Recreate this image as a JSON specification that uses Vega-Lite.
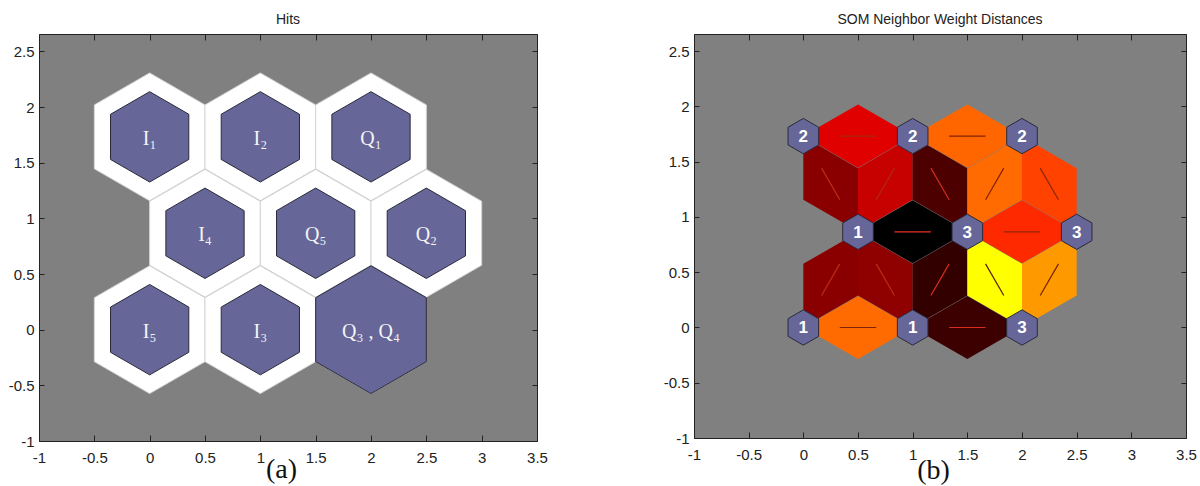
{
  "$schema": "https://vega.github.io/schema/vega-lite/v6.json",
  "background": "white",
  "padding": {"left": 7, "top": 12, "right": 0, "bottom": 0},
  "spacing": 114,
  "config": {
    "view": {"fill": "#808080", "stroke": "#222222", "strokeWidth": 1},
    "axis": {
      "domain": false, "grid": false, "tickColor": "#222222", "tickSize": -6, "tickWidth": 1,
      "labelFont": "Liberation Sans", "labelFontSize": 15, "labelColor": "#222222",
      "labelFlush": false, "labelOverlap": false, "labelBound": false,
      "titleFont": "Liberation Serif", "titleFontSize": 28, "titleFontWeight": "normal", "titleColor": "#111111"
    },
    "title": {"font": "Liberation Sans", "fontSize": 14, "fontWeight": "normal", "color": "#222222", "anchor": "middle", "offset": 7}
  },
  "datasets": {
    "hits": [
      {"x": 0, "y": 1.7321, "label": "I₁", "hits": 1},
      {"x": 1, "y": 1.7321, "label": "I₂", "hits": 1},
      {"x": 2, "y": 1.7321, "label": "Q₁", "hits": 1},
      {"x": 0.5, "y": 0.866, "label": "I₄", "hits": 1},
      {"x": 1.5, "y": 0.866, "label": "Q₅", "hits": 1},
      {"x": 2.5, "y": 0.866, "label": "Q₂", "hits": 1},
      {"x": 0, "y": 0, "label": "I₅", "hits": 1},
      {"x": 1, "y": 0, "label": "I₃", "hits": 1},
      {"x": 2, "y": 0, "label": "Q₃ , Q₄", "hits": 2}
    ],
    "links": [
      {"x": 0.5, "y": 1.7321, "dir": "h", "dist": 0.56},
      {"x": 1.5, "y": 1.7321, "dir": "h", "dist": 0.3},
      {"x": 1, "y": 0.866, "dir": "h", "dist": 1.0},
      {"x": 2, "y": 0.866, "dir": "h", "dist": 0.42},
      {"x": 0.5, "y": 0, "dir": "h", "dist": 0.29},
      {"x": 1.5, "y": 0, "dir": "h", "dist": 0.88},
      {"x": 0.25, "y": 1.299, "dir": "f", "dist": 0.73},
      {"x": 0.75, "y": 1.299, "dir": "r", "dist": 0.61},
      {"x": 1.25, "y": 1.299, "dir": "f", "dist": 0.85},
      {"x": 1.75, "y": 1.299, "dir": "r", "dist": 0.29},
      {"x": 2.25, "y": 1.299, "dir": "f", "dist": 0.37},
      {"x": 0.25, "y": 0.433, "dir": "r", "dist": 0.73},
      {"x": 0.75, "y": 0.433, "dir": "f", "dist": 0.72},
      {"x": 1.25, "y": 0.433, "dir": "r", "dist": 0.9},
      {"x": 1.75, "y": 0.433, "dir": "f", "dist": 0.0},
      {"x": 2.25, "y": 0.433, "dir": "r", "dist": 0.2}
    ],
    "neurons": [
      {"x": 0, "y": 1.7321, "n": "2"},
      {"x": 1, "y": 1.7321, "n": "2"},
      {"x": 2, "y": 1.7321, "n": "2"},
      {"x": 0.5, "y": 0.866, "n": "1"},
      {"x": 1.5, "y": 0.866, "n": "3"},
      {"x": 2.5, "y": 0.866, "n": "3"},
      {"x": 0, "y": 0, "n": "1"},
      {"x": 1, "y": 0, "n": "1"},
      {"x": 2, "y": 0, "n": "3"}
    ]
  },
  "hconcat": [
    {
      "width": 498, "height": 407,
      "title": "Hits",
      "data": {"name": "hits"},
      "resolve": {"axis": {"x": "independent", "y": "independent"}},
      "layer": [
        {
          "mark": {"type": "point", "shape": "M0,-1.1547L1,-0.5774L1,0.5774L0,1.1547L-1,0.5774L-1,-0.5774Z", "filled": true, "fill": "#ffffff", "stroke": "#d4d4d4", "strokeWidth": 1, "size": 12254, "opacity": 1},
          "encoding": {
            "x": {"field": "x", "type": "quantitative", "scale": {"domain": [-1, 3.5], "nice": false, "zero": false},
                  "axis": {"orient": "bottom", "values": [-1, -0.5, 0, 0.5, 1, 1.5, 2, 2.5, 3, 3.5], "labelExpr": "datum.value + ''", "labelPadding": 15, "title": "(a)", "titleX": 242, "titleY": 28, "titleBaseline": "middle"}},
            "y": {"field": "y", "type": "quantitative", "scale": {"domain": [-1, 2.656], "nice": false, "zero": false},
                  "axis": {"orient": "left", "values": [-1, -0.5, 0, 0.5, 1, 1.5, 2, 2.5], "labelExpr": "datum.value + ''", "tickSize": -5, "labelPadding": 10, "title": null}}
          }
        },
        {
          "mark": {"type": "point", "shape": "M0,-1.1547L1,-0.5774L1,0.5774L0,1.1547L-1,0.5774L-1,-0.5774Z", "filled": true, "fill": "#666699", "stroke": "#2a2a3a", "strokeWidth": 1, "opacity": 1},
          "encoding": {
            "x": {"field": "x", "type": "quantitative", "axis": {"orient": "top", "values": [-1, -0.5, 0, 0.5, 1, 1.5, 2, 2.5, 3, 3.5], "labels": false, "title": null}},
            "y": {"field": "y", "type": "quantitative", "axis": {"orient": "right", "values": [-1, -0.5, 0, 0.5, 1, 1.5, 2, 2.5], "labels": false, "tickSize": -5, "title": null}},
            "size": {"field": "hits", "type": "quantitative", "scale": {"domain": [0, 2], "range": [0, 12254], "zero": true}, "legend": null}
          }
        },
        {
          "mark": {"type": "text", "font": "Liberation Serif", "fontSize": 20, "color": "#f4f4f4", "baseline": "middle", "align": "center", "dy": 2},
          "encoding": {
            "x": {"field": "x", "type": "quantitative", "axis": null},
            "y": {"field": "y", "type": "quantitative", "axis": null},
            "text": {"field": "label", "type": "nominal"}
          }
        }
      ]
    },
    {
      "width": 492, "height": 404,
      "title": "SOM Neighbor Weight Distances",
      "resolve": {"axis": {"x": "independent", "y": "independent"}, "scale": {"shape": "independent"}},
      "layer": [
        {
          "data": {"name": "links"},
          "mark": {"type": "point", "filled": true, "size": 11968, "opacity": 1, "strokeWidth": 0},
          "encoding": {
            "x": {"field": "x", "type": "quantitative", "scale": {"domain": [-1, 3.5], "nice": false, "zero": false},
                  "axis": {"orient": "bottom", "values": [-1, -0.5, 0, 0.5, 1, 1.5, 2, 2.5, 3, 3.5], "labelExpr": "datum.value + ''", "labelPadding": 15, "title": "(b)", "titleX": 239, "titleY": 32, "titleBaseline": "middle"}},
            "y": {"field": "y", "type": "quantitative", "scale": {"domain": [-1, 2.656], "nice": false, "zero": false},
                  "axis": {"orient": "left", "values": [-1, -0.5, 0, 0.5, 1, 1.5, 2, 2.5], "labelExpr": "datum.value + ''", "tickSize": -5, "labelPadding": 10, "title": null}},
            "shape": {"field": "dir", "type": "nominal", "scale": {"domain": ["h", "r", "f"], "range": ["M-1,0L0,-0.577L1,0L0,0.577Z", "M0.5,-0.866L-0.5,-0.289L-0.5,0.866L0.5,0.289Z", "M-0.5,-0.866L0.5,-0.289L0.5,0.866L-0.5,0.289Z"]}, "legend": null},
            "color": {"field": "dist", "type": "quantitative", "scale": {"domain": [0, 0.5, 1], "range": ["#ffff00", "#ff0000", "#000000"], "interpolate": "rgb"}, "legend": null}
          }
        },
        {
          "data": {"name": "links"},
          "mark": {"type": "point", "filled": false, "size": 11968, "strokeWidth": 1.2, "opacity": 1},
          "encoding": {
            "x": {"field": "x", "type": "quantitative", "axis": {"orient": "top", "values": [-1, -0.5, 0, 0.5, 1, 1.5, 2, 2.5, 3, 3.5], "labels": false, "title": null}},
            "y": {"field": "y", "type": "quantitative", "axis": {"orient": "right", "values": [-1, -0.5, 0, 0.5, 1, 1.5, 2, 2.5], "labels": false, "tickSize": -5, "title": null}},
            "shape": {"field": "dir", "type": "nominal", "scale": {"domain": ["h", "r", "f"], "range": ["M-0.333,0L0.333,0", "M-0.1667,0.2887L0.1667,-0.2887", "M-0.1667,-0.2887L0.1667,0.2887"]}, "legend": null},
            "stroke": {"field": "dist", "type": "quantitative", "scale": {"domain": [0, 1], "range": ["#5a1a00", "#e83020"]}, "legend": null}
          }
        },
        {
          "data": {"name": "neurons"},
          "mark": {"type": "point", "shape": "M0,-1.1547L1,-0.5774L1,0.5774L0,1.1547L-1,0.5774L-1,-0.5774Z", "filled": true, "fill": "#666699", "stroke": "#2a2a3a", "strokeWidth": 1, "size": 936, "opacity": 1},
          "encoding": {
            "x": {"field": "x", "type": "quantitative", "axis": null},
            "y": {"field": "y", "type": "quantitative", "axis": null}
          }
        },
        {
          "data": {"name": "neurons"},
          "mark": {"type": "text", "font": "Liberation Sans", "fontSize": 17, "fontWeight": "bold", "color": "#ffffff", "baseline": "middle", "align": "center", "dy": 1},
          "encoding": {
            "x": {"field": "x", "type": "quantitative", "axis": null},
            "y": {"field": "y", "type": "quantitative", "axis": null},
            "text": {"field": "n", "type": "nominal"}
          }
        }
      ]
    }
  ]
}
